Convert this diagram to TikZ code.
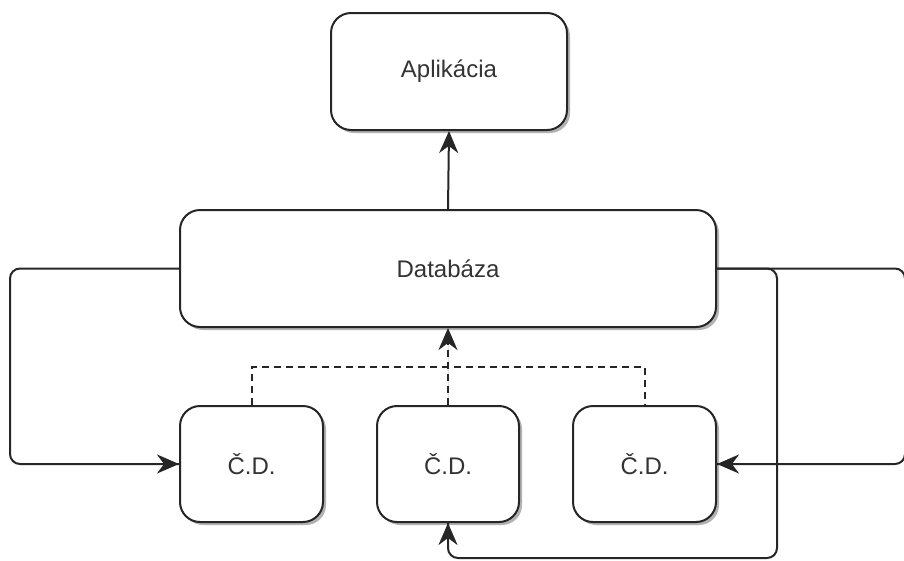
\documentclass[tikz,border=0pt]{standalone}
\usepackage{fontspec}
\setmainfont{Liberation Sans}
\usetikzlibrary{arrows.meta,shadows}
\definecolor{txt}{HTML}{333333}
\begin{document}
\begin{tikzpicture}[x=1pt,y=1pt,
  box/.style={draw=black!85, line width=2pt, rounded corners=20pt, fill=white,
    text=txt, font=\fontsize{24}{28}\selectfont,
    drop shadow={shadow xshift=3pt, shadow yshift=-3pt, fill=black!30, opacity=1}},
  wire/.style={draw=black!85, line width=2pt, rounded corners=10pt},
  arrowtip/.style={draw=black!85, fill=black!85, line width=2pt, sharp corners,
    arrows={-Stealth[length=22pt,width=19pt,inset=7pt]}},
  dashline/.style={dash pattern=on 7pt off 5pt}]
\useasboundingbox (0,0) rectangle (904,-560);
\node[box, minimum width=236pt, minimum height=117pt] (app) at (449,-71.5) {Aplikácia};
\node[box, minimum width=536pt, minimum height=117pt] (db) at (448,-268.5) {Databáza};
\node[box, minimum width=143pt, minimum height=116pt] (cd1) at (251.5,-464) {Č.D.};
\node[box, minimum width=142pt, minimum height=116pt] (cd2) at (448,-464) {Č.D.};
\node[box, minimum width=143pt, minimum height=116pt] (cd3) at (644.5,-464) {Č.D.};
\coordinate (lt) at (10,-268.5);
\coordinate (rt) at (905,-268.5);
\coordinate (mt) at (777,-268.5);
\coordinate (mb) at (777,-558);
\coordinate (dh) at (448,-367);
\draw[arrowtip] (db.north) -- (app.south);
\draw[wire] (db.west) -- (lt) |- (cd1.west);
\draw[arrowtip] ([xshift=-25pt]cd1.west) -- (cd1.west);
\draw[wire] (db.east) -- (rt) |- (cd3.east);
\draw[arrowtip] ([xshift=25pt]cd3.east) -- (cd3.east);
\draw[wire] (db.east) -- (mt) -- (mb) -| (cd2.south);
\draw[arrowtip] ([yshift=-25pt]cd2.south) -- (cd2.south);
\draw[wire, sharp corners, dashline] (cd1.north) |- (dh) -| (cd3.north);
\draw[arrowtip, dashline] (cd2.north) -- (db.south);
\end{tikzpicture}
\end{document}
